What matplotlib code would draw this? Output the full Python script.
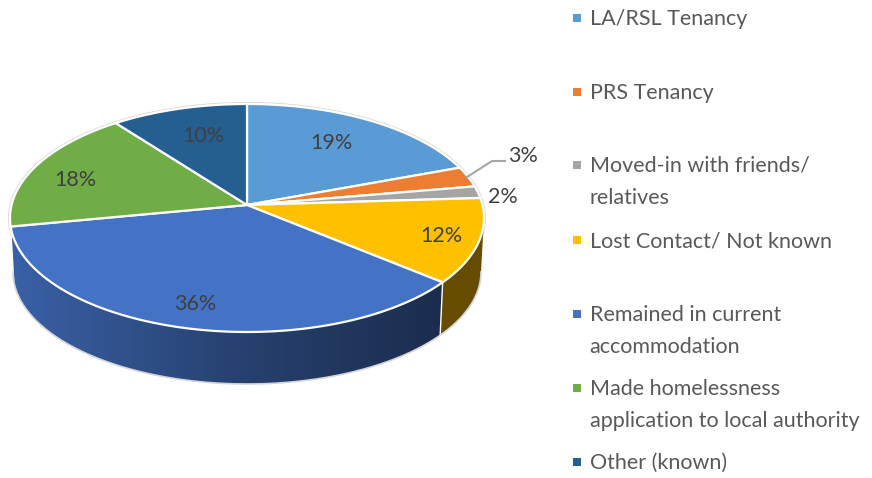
import numpy as np
from matplotlib import pyplot as plt
from matplotlib.colors import to_rgb
from matplotlib.patches import Polygon

categorias = ["LA/RSL Tenancy", "PRS Tenancy", "Moved-in with friends/\nrelatives",
              "Lost Contact/ Not known", "Remained in current\naccommodation",
              "Made homelessness\napplication to local authority", "Other (known)"]
valores = [19.4, 2.9, 1.7, 12.0, 36.0, 17.6, 10.4]
colores = ["#5B9BD5", "#ED7D31", "#A5A5A5", "#FFC000", "#4472C4", "#70AD47", "#255E91"]

# donde va cada etiqueta y cada entrada de la leyenda (en pixeles)
pos_etiquetas = [(331, 143), (523, 156), (503, 197), (441, 236), (195, 304), (75, 180), (203, 136)]
pos_leyenda = [18, 92, 165, 240, 314, 388, 462]

plt.rcParams['font.family'] = ['Lato', 'DejaVu Sans']

fig = plt.figure(figsize=(8.72, 4.78), dpi=100)
ax = fig.add_axes([0, 0, 1, 1])

# elipse de arriba y de abajo del pastel
cx, cy, rx, ry = 247, 218, 237, 114
cy_abajo, rx_abajo, ry_abajo = 272, 234, 112
k = 13 / ry  # la perspectiva sube el centro del pastel


def normalizar(theta):
    # theta en radianes, horario desde arriba
    u, v = np.sin(theta), np.cos(theta)
    d = 1 + k * v
    return u * np.sqrt(1 - k ** 2) / d, (v + k) / d


def arriba(theta):
    X, Y = normalizar(theta)
    return cx + rx * X, cy - ry * Y


def abajo(theta):
    X, Y = normalizar(theta)
    return cx + rx_abajo * X, cy_abajo - ry_abajo * Y


def sombra(x):
    # la pared se oscurece de izquierda a derecha
    return np.interp((x - cx) / rx, [-1, 0, 0.8, 1], [0.85, 0.56, 0.4, 0.4])


angulos = np.radians(np.cumsum([0] + valores) / sum(valores) * 360)
vis_ini = np.arccos(-k)
vis_fin = 2 * np.pi - vis_ini

# Pared lateral con degradado
xs_grad = np.arange(0, 872)
for i, color in enumerate(colores):
    a = max(angulos[i], vis_ini)
    b = min(angulos[i + 1], vis_fin)
    if b <= a:
        continue
    ts = np.linspace(a, b, 150)
    xa, ya = arriba(ts)
    xb, yb = abajo(ts[::-1])
    grad = np.outer(sombra(xs_grad), np.array(to_rgb(color)))[np.newaxis, :, :]
    im = ax.imshow(grad, extent=(0, 872, 478, 0), aspect='auto', interpolation='bilinear', zorder=1)
    im.set_clip_path(Polygon(np.c_[np.r_[xa, xb], np.r_[ya, yb]], closed=True, transform=ax.transData))
    if vis_ini <= angulos[i] <= vis_fin:
        ax.plot(*zip(arriba(angulos[i]), abajo(angulos[i])), color="white", lw=1, zorder=2)

ax.set_xlim(0, 872)
ax.set_ylim(478, 0)
ax.axis('off')

# Contorno gris claro
ts = np.linspace(vis_ini, vis_fin, 300)
ax.plot(*abajo(ts), color="#d4d4d4", lw=1.2, zorder=2)
ts = np.linspace(0, 2 * np.pi, 500)
ax.plot(cx + (rx + 1.5) * np.sin(ts), cy - (ry + 1.5) * np.cos(ts), color="#d9d9d9", lw=0.8, zorder=0)

# Cara superior
centro = (cx, cy - ry * k)
for i, color in enumerate(colores):
    ts = np.linspace(angulos[i], angulos[i + 1], 120)
    xs, ys = arriba(ts)
    ax.fill(np.r_[centro[0], xs], np.r_[centro[1], ys], facecolor=color, edgecolor="white", lw=1.6,
            joinstyle='round', zorder=3)

# Etiquetas de porcentaje
for v, (x, y) in zip(valores, pos_etiquetas):
    ax.text(x, y, f"{v:.0f}%", ha='center', va='center', fontsize=15.5, color="#404040", zorder=5)

# Linea guia del 3%
ax.plot([467, 492, 505], [177, 161, 161], color="#A6A6A6", lw=1.5, zorder=4)

# Leyenda
for nombre, color, y in zip(categorias, colores, pos_leyenda):
    ax.fill([573, 581, 581, 573], [y - 4, y - 4, y + 4, y + 4], color=color, lw=0, zorder=5)
    ax.text(589.5, y - 9, nombre, ha='left', va='top', fontsize=15.5, color="#595959",
            linespacing=1.74, zorder=5)

fig.savefig("out.png", dpi=100)
